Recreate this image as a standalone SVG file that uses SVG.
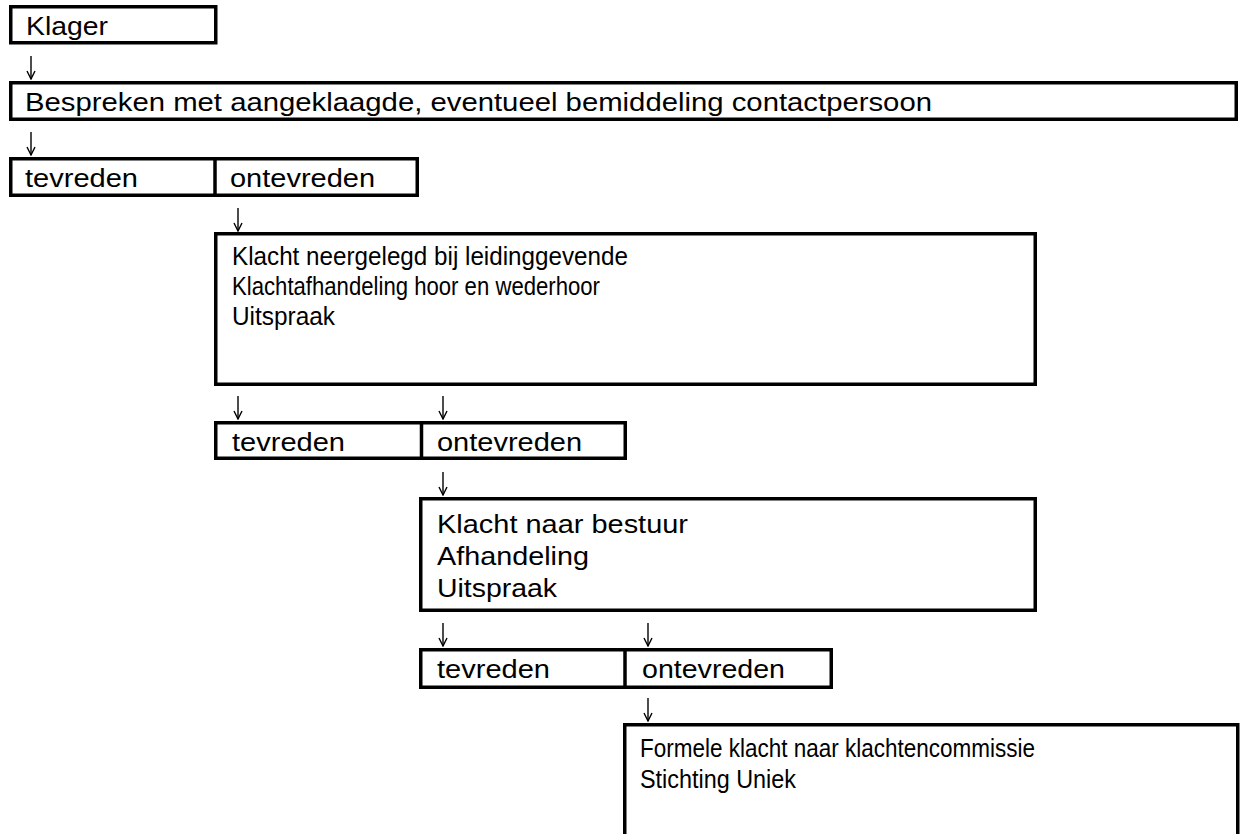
<svg xmlns="http://www.w3.org/2000/svg" width="1240" height="834" viewBox="0 0 1240 834">
<style>
.box{fill:#fff;stroke:#000;stroke-width:3.5}
.div{stroke:#000;stroke-width:3.5}
.t{font-family:"Liberation Sans",Arial,sans-serif;font-size:26.5px;fill:#000}
.arr{fill:none;stroke:#000;stroke-width:1.4}
</style>
<defs>
<marker id="ah" viewBox="0 0 10 10" refX="9" refY="5" markerWidth="10" markerHeight="10" markerUnits="userSpaceOnUse" orient="auto">
<path d="M1,1 L9,5 L1,9" fill="none" stroke="#000" stroke-width="1.4"/>
</marker>
</defs>
<rect width="1240" height="834" fill="#fff"/>
<g id="connectors">
<line class="arr" x1="31" y1="56" x2="31" y2="79" marker-end="url(#ah)"/>
<line class="arr" x1="31" y1="132" x2="31" y2="155" marker-end="url(#ah)"/>
<line class="arr" x1="238" y1="208" x2="238" y2="231" marker-end="url(#ah)"/>
<line class="arr" x1="238" y1="396" x2="238" y2="419" marker-end="url(#ah)"/>
<line class="arr" x1="443" y1="396" x2="443" y2="419" marker-end="url(#ah)"/>
<line class="arr" x1="443" y1="472" x2="443" y2="495" marker-end="url(#ah)"/>
<line class="arr" x1="443" y1="623" x2="443" y2="646" marker-end="url(#ah)"/>
<line class="arr" x1="648" y1="623" x2="648" y2="646" marker-end="url(#ah)"/>
<line class="arr" x1="648" y1="698" x2="648" y2="721" marker-end="url(#ah)"/>
</g>
<g id="klager">
<rect class="box" x="10.75" y="6.75" width="205" height="36"/>
<text class="t" x="26" y="35" textLength="82" lengthAdjust="spacingAndGlyphs">Klager</text>
</g>
<g id="bespreken">
<rect class="box" x="10.75" y="82.75" width="1225.5" height="36.5"/>
<text class="t" x="25" y="110.5" textLength="907" lengthAdjust="spacingAndGlyphs">Bespreken met aangeklaagde, eventueel bemiddeling contactpersoon</text>
</g>
<g id="keuze1">
<rect class="box" x="10.75" y="158.75" width="406.5" height="36.5"/>
<line class="div" x1="215" y1="158.75" x2="215" y2="195.25"/>
<text class="t" x="25" y="187" textLength="113" lengthAdjust="spacingAndGlyphs">tevreden</text>
<text class="t" x="230" y="187" textLength="145" lengthAdjust="spacingAndGlyphs">ontevreden</text>
</g>
<g id="leidinggevende">
<rect class="box" x="215.75" y="233.75" width="819.5" height="150.5"/>
<text class="t" x="232" y="265" textLength="396" lengthAdjust="spacingAndGlyphs">Klacht neergelegd bij leidinggevende</text>
<text class="t" x="232" y="295" textLength="368" lengthAdjust="spacingAndGlyphs">Klachtafhandeling hoor en wederhoor</text>
<text class="t" x="232" y="325" textLength="103" lengthAdjust="spacingAndGlyphs">Uitspraak</text>
</g>
<g id="keuze2">
<rect class="box" x="215.75" y="422.75" width="409.5" height="35.5"/>
<line class="div" x1="421.5" y1="422.75" x2="421.5" y2="458.25"/>
<text class="t" x="232" y="450.5" textLength="113" lengthAdjust="spacingAndGlyphs">tevreden</text>
<text class="t" x="437" y="450.5" textLength="145" lengthAdjust="spacingAndGlyphs">ontevreden</text>
</g>
<g id="bestuur">
<rect class="box" x="420.75" y="498.75" width="614.5" height="111.5"/>
<text class="t" x="437" y="532.5" textLength="251" lengthAdjust="spacingAndGlyphs">Klacht naar bestuur</text>
<text class="t" x="437" y="565" textLength="152" lengthAdjust="spacingAndGlyphs">Afhandeling</text>
<text class="t" x="437" y="597" textLength="120" lengthAdjust="spacingAndGlyphs">Uitspraak</text>
</g>
<g id="keuze3">
<rect class="box" x="420.75" y="649.75" width="410.5" height="37.5"/>
<line class="div" x1="625" y1="649.75" x2="625" y2="687.25"/>
<text class="t" x="437" y="678" textLength="113" lengthAdjust="spacingAndGlyphs">tevreden</text>
<text class="t" x="642" y="678" textLength="143" lengthAdjust="spacingAndGlyphs">ontevreden</text>
</g>
<g id="klachtencommissie">
<rect class="box" x="624.75" y="724.75" width="613" height="130"/>
<text class="t" x="640" y="756.5" textLength="395" lengthAdjust="spacingAndGlyphs">Formele klacht naar klachtencommissie</text>
<text class="t" x="640" y="788" textLength="156" lengthAdjust="spacingAndGlyphs">Stichting Uniek</text>
</g>
</svg>
